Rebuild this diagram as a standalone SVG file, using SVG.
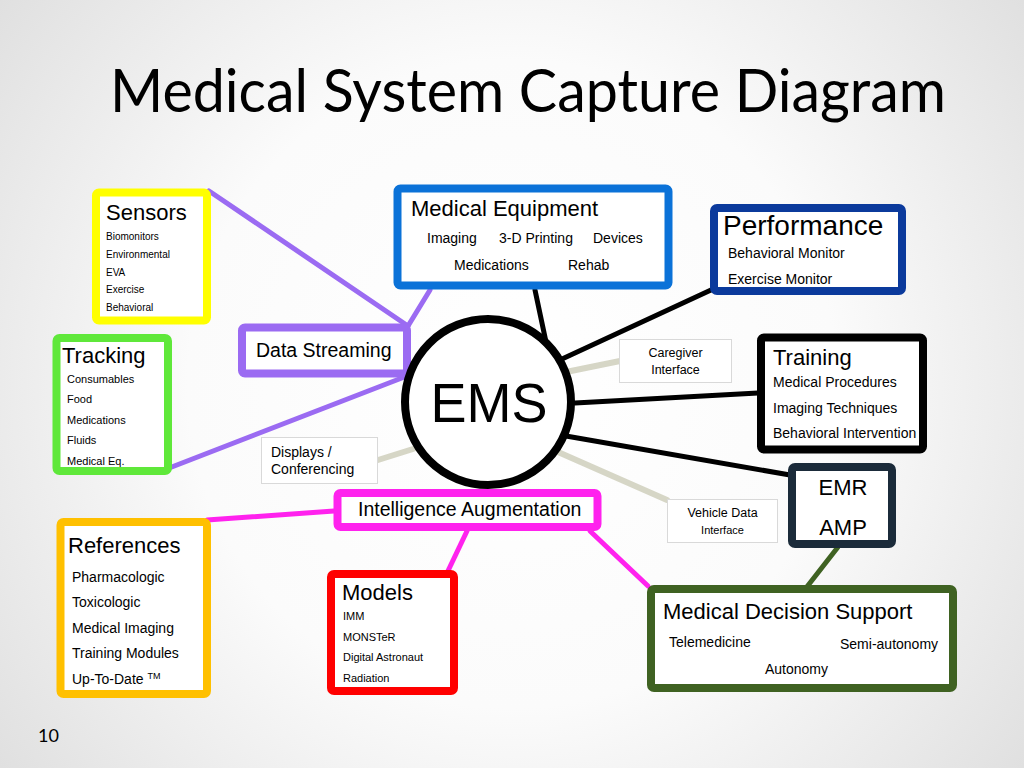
<svg xmlns="http://www.w3.org/2000/svg" width="1024" height="768" viewBox="0 0 1024 768">
<defs>
<radialGradient id="bg" cx="512" cy="384" r="720" gradientUnits="userSpaceOnUse">
<stop offset="0" stop-color="#FFFFFF"/>
<stop offset="0.45" stop-color="#FBFBFB"/>
<stop offset="1" stop-color="#D9D9D9"/>
</radialGradient>
<style>
text{font-family:"Liberation Sans",Arial,sans-serif;fill:#000}
.box{fill:#FFFFFF;stroke-width:8;stroke-linejoin:round}
.thin{fill:#FFFFFF;stroke:#D9D9D9;stroke-width:1}
.h22{font-size:22px}
.s14{font-size:14px}
.s11{font-size:11px}
.s10{font-size:10px}
.c{text-anchor:middle}
.conn line{stroke-width:5;stroke-linecap:round}
.pur{stroke:#9B6BF2}
.blk{stroke:#000000}
.gry{stroke:#D6D6C6}
.mag{stroke:#FF22EE}
.dgr{stroke:#3F6222}
</style>
</defs>
<rect x="0" y="0" width="1024" height="768" fill="url(#bg)"/>
<text x="110" y="112" style="font-family:Lato,'Open Sans',sans-serif;font-size:60px" textLength="836" lengthAdjust="spacingAndGlyphs">Medical System Capture Diagram</text>
<text x="38" y="742" style="font-family:Lato,'Open Sans',sans-serif;font-size:18px">10</text>

<g id="connectors" class="conn">
<line class="pur" x1="209" y1="191" x2="408" y2="326"/>
<line class="pur" x1="430" y1="290" x2="408" y2="326"/>
<line class="pur" x1="407" y1="376" x2="164" y2="470"/>
<line class="blk" x1="535" y1="290" x2="546" y2="342"/>
<line class="blk" x1="711" y1="290" x2="562" y2="359"/>
<line class="blk" x1="758" y1="393" x2="575" y2="403"/>
<line class="blk" x1="790" y1="475" x2="566" y2="436"/>
<line class="gry" x1="620" y1="361" x2="566" y2="372" style="stroke-width:6"/>
<line class="gry" x1="378" y1="460" x2="413" y2="449" style="stroke-width:6"/>
<line class="gry" x1="667" y1="500" x2="558" y2="452" style="stroke-width:6"/>
<line class="mag" x1="334" y1="511" x2="207" y2="520"/>
<line class="mag" x1="467" y1="531" x2="447" y2="573"/>
<line class="mag" x1="590" y1="531" x2="648" y2="586"/>
<line class="dgr" x1="838" y1="547" x2="806" y2="588"/>
</g>

<g id="sensors">
<rect class="box" x="96" y="192.5" width="111" height="128" rx="3" style="stroke:#FFFF00"/>
<text x="106" y="220" class="h22">Sensors</text>
<text x="106" y="240" class="s10">Biomonitors</text>
<text x="106" y="258" class="s10">Environmental</text>
<text x="106" y="275.5" class="s10">EVA</text>
<text x="106" y="293" class="s10">Exercise</text>
<text x="106" y="311" class="s10">Behavioral</text>
</g>

<g id="medical-equipment">
<rect class="box" x="397.5" y="188.5" width="271" height="97" rx="3" style="stroke:#0B72D8"/>
<text x="411" y="215.5" class="h22">Medical Equipment</text>
<text x="427" y="243" class="s14">Imaging</text>
<text x="499" y="243" class="s14">3-D Printing</text>
<text x="593" y="243" class="s14">Devices</text>
<text x="454" y="270" class="s14">Medications</text>
<text x="568" y="270" class="s14">Rehab</text>
</g>

<g id="performance">
<rect class="box" x="714" y="208" width="188" height="83" rx="3" style="stroke:#0B3A9C"/>
<text x="723" y="235" style="font-size:28px">Performance</text>
<text x="728" y="258" class="s14">Behavioral Monitor</text>
<text x="728" y="284" class="s14">Exercise Monitor</text>
</g>

<g id="data-streaming">
<rect class="box" x="242" y="327.5" width="165" height="46" rx="3" style="stroke:#9B6BF2"/>
<text x="256" y="357" style="font-size:19.5px">Data Streaming</text>
</g>

<g id="tracking">
<rect class="box" x="56.5" y="338" width="111.5" height="133" rx="3" style="stroke:#5FE83A"/>
<text x="62" y="363" class="h22">Tracking</text>
<text x="67" y="383" class="s11">Consumables</text>
<text x="67" y="403" class="s11">Food</text>
<text x="67" y="424" class="s11">Medications</text>
<text x="67" y="444" class="s11">Fluids</text>
<text x="67" y="465" class="s11">Medical Eq.</text>
</g>

<g id="displays">
<rect class="thin" x="261.5" y="437.5" width="116" height="46"/>
<text x="271" y="457" class="s14">Displays /</text>
<text x="271" y="474" class="s14">Conferencing</text>
</g>

<g id="caregiver">
<rect class="thin" x="619.5" y="339.5" width="112" height="43"/>
<text x="675.5" y="357" class="c" style="font-size:12.5px">Caregiver</text>
<text x="675.5" y="374" class="c" style="font-size:12.5px">Interface</text>
</g>

<g id="ems">
<circle cx="488" cy="402" r="83" fill="#FFFFFF" stroke="#000000" stroke-width="8"/>
<text x="489" y="422" class="c" style="font-size:56px" textLength="117" lengthAdjust="spacingAndGlyphs">EMS</text>
</g>

<g id="training">
<rect class="box" x="761" y="337.5" width="162" height="112" rx="3" style="stroke:#000000"/>
<text x="773" y="365" class="h22">Training</text>
<text x="773" y="387" class="s14">Medical Procedures</text>
<text x="773" y="413" class="s14">Imaging Techniques</text>
<text x="773" y="438" class="s14">Behavioral Intervention</text>
</g>

<g id="emr-amp">
<rect class="box" x="792" y="467" width="100" height="77" rx="3" style="stroke:#1B2B3A"/>
<text x="843" y="495" class="h22 c">EMR</text>
<text x="843" y="535" class="h22 c">AMP</text>
</g>

<g id="vehicle-data">
<rect class="thin" x="667.5" y="499.5" width="110" height="43"/>
<text x="722.5" y="517" class="c" style="font-size:12.5px">Vehicle Data</text>
<text x="722.5" y="534" class="c s11">Interface</text>
</g>

<g id="intelligence-augmentation">
<rect class="box" x="337.5" y="493" width="260" height="34" rx="3" style="stroke:#FF22EE"/>
<text x="358" y="516" style="font-size:19.5px">Intelligence Augmentation</text>
</g>

<g id="references">
<rect class="box" x="60.5" y="522" width="146.5" height="172" rx="3" style="stroke:#FFC000"/>
<text x="68" y="553" class="h22">References</text>
<text x="72" y="582" class="s14">Pharmacologic</text>
<text x="72" y="607" class="s14">Toxicologic</text>
<text x="72" y="633" class="s14">Medical Imaging</text>
<text x="72" y="658" class="s14">Training Modules</text>
<text x="72" y="684" class="s14">Up-To-Date <tspan style="font-size:9px" dy="-5">TM</tspan></text>
</g>

<g id="models">
<rect class="box" x="331" y="574" width="123" height="117" rx="3" style="stroke:#FF0000"/>
<text x="342" y="600" class="h22">Models</text>
<text x="343" y="620" class="s11">IMM</text>
<text x="343" y="641" class="s11">MONSTeR</text>
<text x="343" y="661" class="s11">Digital Astronaut</text>
<text x="343" y="682" class="s11">Radiation</text>
</g>

<g id="medical-decision-support">
<rect class="box" x="651" y="589" width="302" height="99" rx="3" style="stroke:#3F6222"/>
<text x="663" y="619" class="h22">Medical Decision Support</text>
<text x="669" y="647" class="s14">Telemedicine</text>
<text x="840" y="649" class="s14">Semi-autonomy</text>
<text x="765" y="674" class="s14">Autonomy</text>
</g>
</svg>
